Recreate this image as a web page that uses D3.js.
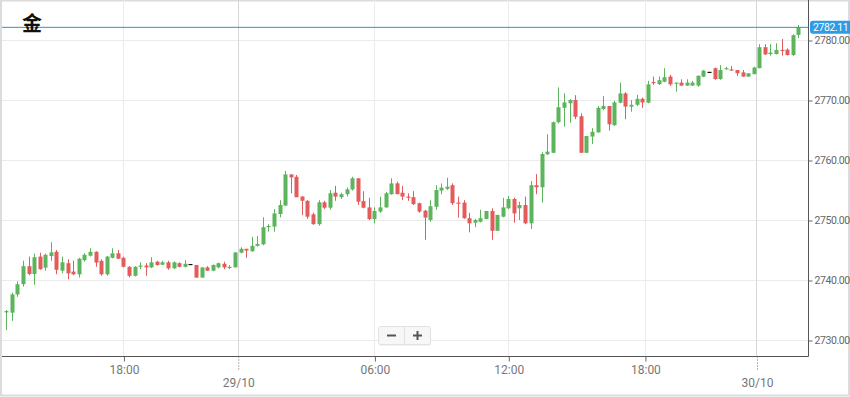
<!DOCTYPE html>
<html>
<head>
<meta charset="utf-8">
<script src="https://cdn.jsdelivr.net/npm/d3@7"></script>
<style>
  html, body { margin: 0; padding: 0; background: #fff; }
  svg { display: block; font-family: Roboto, "Noto Sans", sans-serif; }
</style>
</head>
<body>
<script>
// 15-minute gold candles
var opens = [2734.6,2734.55,2737.6,2739.3,2742.3,2741.0,2743.9,2742.05,2744.0,2744.7,
2741.55,2742.8,2741.4,2740.95,2743.3,2744.05,2744.7,2743.2,2740.95,2743.7,
2744.45,2743.7,2742.2,2740.7,2742.2,2742.4,2742.1,2743.05,2742.55,2742.95,
2741.95,2742.8,2742.2,2742.67,2742.5,2740.4,2742.1,2741.55,2742.1,2742.7,
2742.1,2742.1,2744.55,2745.2,2744.8,2745.7,2745.95,2748.9,2748.9,2751.0,
2752.4,2757.6,2757.2,2753.9,2753.2,2750.95,2749.3,2752.95,2752.05,2754.55,
2753.8,2754.3,2755.1,2756.95,2753.15,2752.1,2750.15,2751.4,2752.1,2754.3,
2756.1,2754.55,2753.9,2753.8,2752.8,2751.55,2750.0,2752.2,2754.9,2755.2,
2755.8,2752.9,2752.9,2750.3,2749.55,2749.7,2750.15,2751.5,2748.2,2750.55,
2751.95,2753.5,2751.95,2752.5,2749.45,2755.8,2755.45,2760.95,2761.2,2766.3,
2768.7,2769.45,2770.0,2767.3,2761.2,2763.9,2764.6,2768.5,2769.0,2765.8,
2769.55,2771.1,2768.9,2769.2,2770.2,2769.55,2773.0,2772.65,2773.05,2773.9,
2772.8,2772.9,2772.4,2772.4,2772.4,2773.9,2774.7,2775.3,2773.5,2775.1,
2775.1,2775.0,2774.6,2773.9,2774.3,2775.3,2778.8,2777.65,2777.65,2778.35,
2778.4,2777.5,2780.85];

var highs = [2735.0,2737.9,2739.8,2743.2,2743.9,2744.4,2744.55,2744.4,2746.3,2745.0,
2743.9,2743.45,2743.2,2743.7,2744.45,2745.3,2744.8,2743.45,2744.0,2745.3,
2745.0,2743.9,2742.3,2742.3,2742.95,2742.8,2743.8,2743.2,2743.2,2743.2,
2743.1,2742.95,2743.3,2742.67,2742.5,2742.1,2742.3,2742.6,2742.9,2743.05,
2742.5,2744.6,2745.45,2745.2,2747.2,2747.35,2750.45,2749.3,2751.8,2753.3,
2758.2,2757.6,2757.5,2754.0,2753.3,2751.2,2753.3,2753.2,2755.0,2755.7,
2754.55,2755.4,2757.2,2756.95,2754.8,2753.7,2752.1,2753.9,2754.7,2756.95,
2756.4,2755.7,2754.45,2754.8,2752.9,2751.7,2753.3,2755.8,2756.1,2757.05,
2756.1,2753.9,2753.3,2751.2,2750.2,2751.7,2751.5,2751.95,2750.85,2753.7,
2754.0,2753.7,2753.05,2753.9,2756.5,2757.65,2761.3,2764.3,2766.4,2772.1,
2771.1,2770.15,2770.8,2767.8,2764.0,2765.3,2769.0,2770.65,2769.0,2769.85,
2772.9,2771.3,2770.0,2770.85,2770.4,2773.2,2773.9,2773.9,2775.3,2774.2,
2772.9,2773.45,2773.45,2773.2,2774.05,2775.0,2774.7,2775.4,2775.8,2775.55,
2775.65,2775.0,2775.0,2774.45,2775.55,2779.3,2779.3,2779.3,2779.45,2780.15,
2778.6,2780.95,2782.5];

var lows = [2731.67,2733.2,2737.2,2738.9,2740.8,2739.2,2741.7,2741.55,2743.2,2740.95,
2741.1,2740.1,2740.8,2740.4,2743.05,2743.9,2742.2,2740.7,2740.7,2743.6,
2743.5,2742.1,2740.45,2740.6,2741.8,2740.7,2742.0,2742.4,2742.5,2741.7,
2741.85,2742.1,2742.1,2742.67,2740.4,2740.4,2741.5,2741.45,2741.95,2741.8,
2741.8,2742.1,2744.45,2743.7,2744.7,2745.55,2745.8,2748.05,2748.05,2750.45,
2752.4,2754.45,2753.8,2750.8,2750.2,2749.2,2749.05,2751.8,2751.7,2753.2,
2753.5,2753.9,2754.9,2752.5,2751.95,2750.0,2749.45,2751.2,2752.05,2754.2,
2754.3,2753.3,2753.2,2752.5,2751.2,2746.7,2749.7,2751.7,2754.3,2755.0,
2752.5,2750.4,2750.2,2747.95,2748.8,2749.6,2750.15,2746.7,2748.2,2750.45,
2751.8,2749.55,2750.0,2749.3,2748.5,2754.3,2752.9,2760.85,2761.2,2766.1,
2765.55,2766.2,2766.8,2761.2,2761.2,2762.65,2764.55,2768.3,2764.9,2765.7,
2769.45,2766.8,2768.05,2769.0,2768.7,2769.45,2772.5,2772.5,2772.95,2772.35,
2771.4,2772.35,2772.35,2772.35,2772.2,2773.8,2774.7,2773.35,2773.35,2775.1,
2774.9,2774.0,2773.9,2773.9,2774.3,2775.3,2777.5,2777.4,2777.6,2777.4,
2777.4,2777.35,2780.3];

var closes = [2734.83,2737.6,2739.3,2742.3,2741.0,2743.8,2741.8,2744.2,2744.6,2741.7,
2742.95,2741.1,2740.95,2743.55,2744.2,2744.7,2742.9,2740.95,2743.9,2744.45,
2743.55,2742.2,2740.7,2742.2,2742.4,2742.1,2742.95,2742.5,2742.95,2741.95,
2742.95,2742.2,2742.7,2742.67,2740.4,2742.1,2741.55,2742.5,2742.8,2742.1,
2742.2,2744.6,2745.2,2744.9,2745.7,2746.0,2748.8,2749.0,2751.1,2752.5,
2757.6,2757.1,2753.8,2753.2,2750.55,2749.3,2752.95,2752.05,2754.45,2753.9,
2754.3,2755.1,2756.95,2753.05,2752.05,2750.15,2751.5,2752.1,2754.45,2756.1,
2754.3,2753.9,2753.7,2752.65,2751.4,2750.4,2752.3,2755.0,2755.4,2755.55,
2752.8,2752.7,2750.3,2749.45,2750.0,2750.3,2751.5,2748.2,2750.85,2752.1,
2753.5,2751.1,2752.5,2749.45,2755.8,2755.45,2761.0,2761.4,2766.3,2768.8,
2769.6,2770.0,2767.2,2761.2,2764.0,2764.7,2768.7,2769.0,2765.95,2769.6,
2771.1,2768.9,2769.2,2770.2,2769.6,2772.6,2772.8,2773.3,2773.8,2772.6,
2772.9,2772.4,2772.9,2772.9,2774.05,2774.9,2774.7,2773.5,2775.0,2775.3,
2774.9,2774.45,2773.9,2774.45,2775.4,2778.8,2777.6,2777.9,2778.35,2778.15,
2777.5,2780.8,2782.11];

var lastPrice = 2782.11;
var title = "金";

// x ticks are placed at candle index positions
var timeTickIdx = [21, 66, 90, 114.5];
var timeTickLabels = ["18:00", "06:00", "12:00", "18:00"];
var dayTickIdx = [41.5, 134.5];
var dayTickLabels = ["29/10", "30/10"];
var priceTicks = [2730, 2740, 2750, 2760, 2770, 2780];

var W = 850, H = 397;
var plotL = 2, plotR = 808, plotB = 356;

var candles = opens.map(function(o, i) {
  return { i: i, o: o, h: highs[i], l: lows[i], c: closes[i] };
});

var svg = d3.select("body").append("svg").attr("width", W).attr("height", H);

var x = d3.scaleLinear().domain([0, candles.length - 1]).range([6.3, 798.3]);
var y = d3.scaleLinear().domain([2730, 2780]).range([340, 40]);

// outer frame
svg.append("rect")
  .attr("x", 1).attr("y", 0.5).attr("width", W - 2).attr("height", H - 2)
  .attr("fill", "#fff").attr("stroke", "#dcdcdc").attr("stroke-width", 2);

// horizontal grid
svg.append("g").selectAll("line").data(priceTicks).join("line")
  .attr("x1", plotL).attr("x2", plotR)
  .attr("y1", function(d){ return Math.round(y(d)) + 0.5; })
  .attr("y2", function(d){ return Math.round(y(d)) + 0.5; })
  .attr("stroke", "#ebebeb");

// vertical grid
svg.append("g").selectAll("line").data(timeTickIdx).join("line")
  .attr("x1", function(d){ return Math.round(x(d)) + 0.5; })
  .attr("x2", function(d){ return Math.round(x(d)) + 0.5; })
  .attr("y1", 0).attr("y2", plotB)
  .attr("stroke", "#ebebeb");
svg.append("g").selectAll("line").data(dayTickIdx).join("line")
  .attr("x1", function(d){ return Math.round(x(d)) + 0.5; })
  .attr("x2", function(d){ return Math.round(x(d)) + 0.5; })
  .attr("y1", 0).attr("y2", plotB)
  .attr("stroke", "#d6d6d6");

// candles
var up = "#5cb55c", down = "#e45b5b";
function col(d){ return d.c > d.o ? up : (d.c < d.o ? down : "#111"); }

var cg = svg.append("g").selectAll("g").data(candles).join("g");
cg.append("line")
  .attr("x1", function(d){ return Math.round(x(d.i)) + 0.5; })
  .attr("x2", function(d){ return Math.round(x(d.i)) + 0.5; })
  .attr("y1", function(d){ return y(d.h); })
  .attr("y2", function(d){ return y(d.l); })
  .attr("stroke", col).attr("stroke-width", 1);
cg.append("rect")
  .attr("x", function(d){ return Math.round(x(d.i)) - 1.5; })
  .attr("width", 4)
  .attr("y", function(d){ return y(Math.max(d.o, d.c)); })
  .attr("height", function(d){ return Math.max(1.2, Math.abs(y(d.o) - y(d.c))); })
  .attr("fill", col);

// last price line
svg.append("line")
  .attr("x1", plotL).attr("x2", plotR)
  .attr("y1", y(lastPrice)).attr("y2", y(lastPrice))
  .attr("stroke", "#2f93c9").attr("stroke-width", 1);

// axes lines
svg.append("line").attr("x1", plotL).attr("x2", plotR + 0.5)
  .attr("y1", plotB + 0.5).attr("y2", plotB + 0.5).attr("stroke", "#555");
svg.append("line").attr("x1", plotR + 0.5).attr("x2", plotR + 0.5)
  .attr("y1", 0).attr("y2", plotB + 0.5).attr("stroke", "#555");

// y axis
var yAxis = svg.append("g")
  .attr("transform", "translate(" + (plotR + 0.5) + ",0.5)")
  .call(d3.axisRight(y).tickValues(priceTicks).tickSize(4).tickPadding(2)
    .tickFormat(d3.format(".2f")));
yAxis.select(".domain").remove();
yAxis.selectAll(".tick line").attr("stroke", "#666");
yAxis.selectAll("text").attr("fill", "#666").style("font-size", "10.5px")
  .style("letter-spacing", "-0.4px")
  .style("font-family", "Roboto, sans-serif");

// x axis, time ticks
var xAxis = svg.append("g")
  .attr("transform", "translate(0.5," + (plotB + 0.5) + ")")
  .call(d3.axisBottom(x).tickValues(timeTickIdx).tickSize(5).tickPadding(4)
    .tickFormat(function(d, i){ return timeTickLabels[i]; }));
xAxis.select(".domain").remove();
xAxis.selectAll(".tick line").attr("stroke", "#666");
xAxis.selectAll("text").attr("fill", "#777").style("font-size", "12px")
  .style("font-family", "Roboto, sans-serif");

// x axis, day ticks (dotted, lower label)
var dAxis = svg.append("g")
  .attr("transform", "translate(0.5," + (plotB + 0.5) + ")")
  .call(d3.axisBottom(x).tickValues(dayTickIdx).tickSize(15).tickPadding(7)
    .tickFormat(function(d, i){ return dayTickLabels[i]; }));
dAxis.select(".domain").remove();
dAxis.selectAll(".tick line").attr("stroke", "#666").attr("stroke-dasharray", "1,2");
dAxis.selectAll("text").attr("fill", "#777").style("font-size", "12px")
  .style("font-family", "Roboto, sans-serif");

// last price badge
var by = y(lastPrice);
svg.append("rect")
  .attr("x", plotR + 2).attr("y", by - 6.5).attr("width", 44).attr("height", 13)
  .attr("rx", 3).attr("fill", "#2e9be6");
svg.append("text")
  .attr("x", plotR + 5).attr("y", by + 4)
  .attr("fill", "#fff").style("font-size", "10.5px")
  .style("letter-spacing", "-0.4px")
  .text(d3.format(".2f")(lastPrice));

// title
svg.append("text")
  .attr("x", 22).attr("y", 31)
  .style("font-family", "'Noto Sans CJK SC', sans-serif")
  .style("font-size", "20px").style("font-weight", "bold")
  .attr("fill", "#111")
  .text(title);

// zoom buttons
var zb = svg.append("g").attr("transform", "translate(378,326)");
zb.append("rect").attr("x", 1).attr("y", 1.5).attr("width", 52).attr("height", 18)
  .attr("rx", 2).attr("fill", "#e6e6e6");
zb.append("rect").attr("x", 0.5).attr("y", 0.5).attr("width", 52).attr("height", 18)
  .attr("rx", 2).attr("fill", "#f7f7f7").attr("stroke", "#e2e2e2");
zb.append("line").attr("x1", 26.5).attr("x2", 26.5).attr("y1", 1).attr("y2", 18)
  .attr("stroke", "#e2e2e2");
zb.append("line").attr("x1", 9).attr("x2", 18).attr("y1", 9.5).attr("y2", 9.5)
  .attr("stroke", "#555").attr("stroke-width", 2);
zb.append("line").attr("x1", 35).attr("x2", 44).attr("y1", 9.5).attr("y2", 9.5)
  .attr("stroke", "#555").attr("stroke-width", 2);
zb.append("line").attr("x1", 39.5).attr("x2", 39.5).attr("y1", 5).attr("y2", 14)
  .attr("stroke", "#555").attr("stroke-width", 2);
</script>
</body>
</html>
